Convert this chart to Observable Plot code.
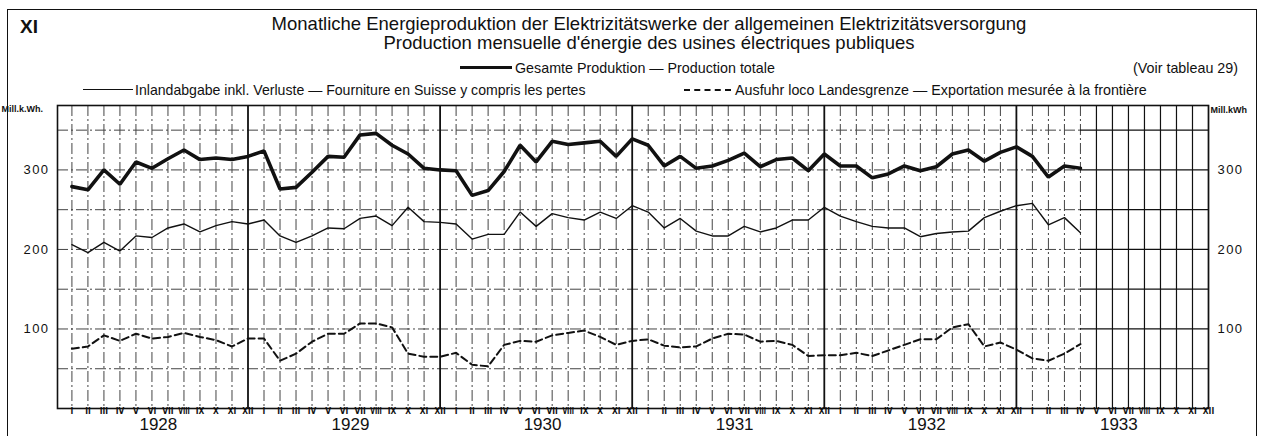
<!DOCTYPE html>
<html><head><meta charset="utf-8">
<script src="https://cdn.jsdelivr.net/npm/d3@7"></script>
<script src="https://cdn.jsdelivr.net/npm/@observablehq/plot@0.6"></script>
<style>
body{margin:0;background:#fff;font-family:"Liberation Sans",Arial,sans-serif;color:#111}
#wrap{position:relative;width:1264px;height:436px;overflow:hidden;background:#fff}
.t{position:absolute;white-space:nowrap;line-height:1}
#chart{position:absolute;left:0;top:100px}
</style></head><body>
<div id="wrap">
  <div style="position:absolute;left:7px;top:9px;width:1248px;height:470px;border:1.5px solid #111;"></div>
  <div class="t" style="left:20px;top:17px;font-size:19px;font-weight:bold">XI</div>
  <div class="t" id="t1" style="left:649px;transform:translateX(-50%);top:15px;font-size:18.5px"></div>
  <div class="t" id="t2" style="left:649px;transform:translateX(-50%);top:34px;font-size:18.5px"></div>
  <div style="position:absolute;left:460px;top:65.5px;width:52px;height:3.5px;background:#111"></div>
  <div class="t" id="l1" style="left:515px;top:61px;font-size:14.3px"></div>
  <div class="t" id="l0" style="right:26px;top:61px;font-size:14.3px"></div>
  <div style="position:absolute;left:83px;top:89px;width:50px;height:0;border-top:1.2px solid #111"></div>
  <div class="t" id="l2" style="left:135px;top:83px;font-size:14.1px"></div>
  <div style="position:absolute;left:684px;top:88.5px;width:47px;height:0;border-top:2px dashed #111"></div>
  <div class="t" id="l3" style="left:735px;top:83px;font-size:14.3px"></div>
  <div id="chart"></div>
</div>
<script>
// ---- data (Mill. kWh), monthly from Jan 1928 to Apr 1933 ----
const romanMonths = ["I","II","III","IV","V","VI","VII","VIII","IX","X","XI","XII"];
const years = [1928, 1929, 1930, 1931, 1932, 1933];
const yTickLabels = [100, 200, 300];
const gridValues = [50, 100, 150, 200, 250, 300, 350];

const total = [
  279, 275, 300, 282, 310, 302, 314, 325, 313, 315, 313, 317,   // 1928
  324, 276, 278, 297, 317, 316, 344, 346, 331, 320, 302, 300,   // 1929
  299, 268, 274, 298, 331, 310, 336, 332, 334, 336, 317, 339,   // 1930
  331, 305, 317, 302, 305, 312, 321, 304, 313, 315, 299, 320,   // 1931
  305, 305, 290, 295, 305, 299, 304, 320, 325, 311, 322, 329,   // 1932
  317, 291, 305, 302                                            // 1933
];
const domestic = [
  206, 196, 209, 198, 217, 215, 227, 232, 222, 230, 235, 232,
  237, 217, 209, 217, 227, 226, 239, 242, 230, 253, 235, 234,
  232, 213, 219, 219, 247, 229, 245, 240, 237, 247, 239, 255,
  247, 227, 239, 223, 217, 217, 229, 222, 227, 237, 237, 253,
  242, 235, 229, 227, 227, 216, 220, 222, 223, 240, 248, 255,
  258, 231, 240, 221
];
const exportV = [
  75, 78, 92, 85, 94, 88, 90, 95, 90, 86, 78, 88,
  88, 60, 69, 84, 94, 94, 107, 107, 102, 69, 65, 65,
  70, 55, 53, 80, 85, 84, 92, 95, 98, 90, 80, 85,
  87, 79, 77, 78, 88, 94, 93, 84, 85, 80, 66, 67,
  67, 70, 66, 73, 80, 87, 87, 102, 106, 78, 83, 74,
  63, 60, 69, 81
];

const texts = {
  t1: "Monatliche Energieproduktion der Elektrizitätswerke der allgemeinen Elektrizitätsversorgung",
  t2: "Production mensuelle d'énergie des usines électriques publiques",
  l1: "Gesamte Produktion — Production totale",
  l0: "(Voir tableau 29)",
  l2: "Inlandabgabe inkl. Verluste — Fourniture en Suisse y compris les pertes",
  l3: "Ausfuhr loco Landesgrenze — Exportation mesurée à la frontière"
};
for (const k in texts) document.getElementById(k).textContent = texts[k];

const nData = total.length;
const data = d3.range(nData).map(i => ({i, total: total[i], domestic: domestic[i], exp: exportV[i]}));
const allMonths = d3.range(years.length * 12).map(i => ({i, label: romanMonths[i % 12]}));
const yearSep = years.slice(0, -1).map((y, k) => k * 12 + 11);
const lastData = nData - 1;
const xMin = -0.9, xMax = years.length * 12 - 1;
const ink = "#111";

const chart = Plot.plot({
  width: 1264, height: 336,
  marginLeft: 57, marginRight: 56, marginTop: 5, marginBottom: 28,
  x: {domain: [xMin, xMax], axis: null},
  y: {domain: [0, 381], axis: null},
  style: {background: "transparent", overflow: "visible", fontFamily: "Liberation Sans, Arial, sans-serif", color: ink},
  marks: [
    // month grid (data period: dash-dot, future: solid)
    Plot.ruleX(allMonths.filter(d => d.i <= lastData && !yearSep.includes(d.i)), {x: "i", stroke: "#444", strokeWidth: 1, strokeDasharray: "11,3,2,3"}),
    Plot.ruleX(allMonths.filter(d => d.i > lastData), {x: "i", stroke: ink, strokeWidth: 1.2}),
    // horizontal grid
    Plot.ruleY(gridValues, {y: d => d, x1: xMin, x2: lastData, stroke: "#444", strokeWidth: 1, strokeDasharray: "11,3,2,3"}),
    Plot.ruleY(gridValues, {y: d => d, x1: lastData, x2: xMax, stroke: ink, strokeWidth: 1.2}),
    // year separators
    Plot.ruleX(yearSep, {x: d => d, stroke: ink, strokeWidth: 1.8}),
    Plot.frame({stroke: ink, strokeWidth: 1.6}),
    // series
    Plot.line(data, {x: "i", y: "exp", stroke: ink, strokeWidth: 2, strokeDasharray: "7,4"}),
    Plot.line(data, {x: "i", y: "domestic", stroke: ink, strokeWidth: 1.4}),
    Plot.line(data, {x: "i", y: "total", stroke: ink, strokeWidth: 3.6, strokeLinejoin: "miter"}),
    // month labels
    Plot.text(allMonths, {x: "i", frameAnchor: "bottom", dy: 5.5, text: "label", fontSize: 8.3, fontWeight: "bold", fill: ink,
      fontFamily: "Liberation Sans Narrow, DejaVu Sans Condensed, Liberation Sans, Arial, sans-serif"}),
    // year labels
    Plot.text(years, {x: (d, k) => k * 12 + 5.4, frameAnchor: "bottom", dy: 21, text: d => String(d), fontSize: 17, fill: ink}),
    // y labels left and right
    Plot.text(yTickLabels, {y: d => d, frameAnchor: "left", dx: -21, text: d => String(d), fontSize: 13, fill: ink, textAnchor: "middle"}),
    Plot.text(yTickLabels, {y: d => d, frameAnchor: "right", dx: 22, text: d => String(d), fontSize: 13, fill: ink, textAnchor: "middle"}),
    // unit labels
    Plot.text(["Mill.k.Wh."], {frameAnchor: "top-left", dx: -56, dy: 0, text: d => d, fontSize: 9, fontWeight: "bold", textAnchor: "start", fill: ink}),
    Plot.text(["Mill.kWh"], {frameAnchor: "top-right", dx: 2, dy: 1, text: d => d, fontSize: 9, fontWeight: "bold", textAnchor: "start", fill: ink})
  ]
});
document.getElementById("chart").appendChild(chart);
const allText = d3.select(chart).selectAll("text");
allText.filter(function(){ return /^\d{3}$/.test(this.textContent); }).attr("letter-spacing", "1.5px");
// keep the small roman month labels inside their 16px month slot
allText.filter(function(){ return /^[IVX]+$/.test(this.textContent); }).each(function(){
  const w = this.getComputedTextLength();
  if (w > 11.5) { this.setAttribute("textLength", 11.5); this.setAttribute("lengthAdjust", "spacingAndGlyphs"); }
});
</script>
</body></html>
